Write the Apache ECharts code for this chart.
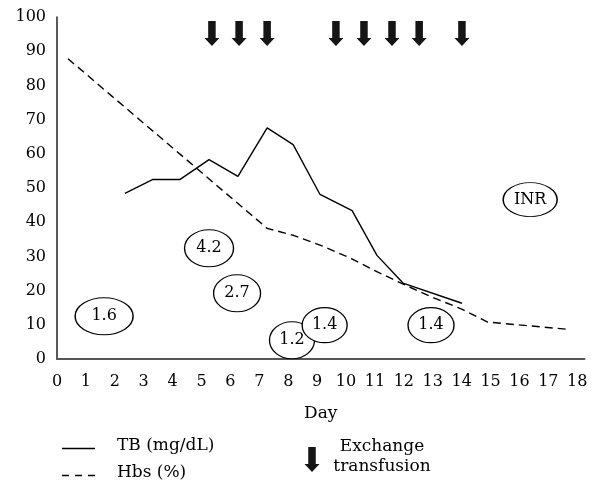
<!DOCTYPE html>
<html><head><meta charset="utf-8">
<script src="https://cdn.jsdelivr.net/npm/echarts@6/dist/echarts.min.js"></script>
<style>html,body{margin:0;padding:0;background:#fff}#c{width:592px;height:481px}</style>
</head><body><div id="c"></div>
<script>
// ---- data ----
const tbDays   = [2.35, 3.32, 4.26, 5.26, 6.26, 7.27, 8.17, 9.10, 10.21, 11.07, 11.97, 14.01];
const tbValues = [48.4, 52.5, 52.5, 58.3, 53.4, 67.6, 62.7, 48.1, 43.4, 30.3, 22.2, 16.3];
const hbsDays   = [0.38, 7.27, 8.2, 9.2, 10.2, 11.1, 12.0, 13.0, 14.0, 14.9, 17.65];
const hbsValues = [87.8, 38.2, 36.1, 33.0, 29.3, 25.4, 21.8, 18.0, 14.6, 10.8, 8.7];
const exchangeDays = [5.36, 6.30, 7.27, 9.65, 10.62, 11.59, 12.53, 14.01];
const exchangeLevel = 95.2;
const inrLabels = ['1.6', '4.2', '2.7', '1.2', '1.4', '1.4', 'INR'];
const inrDays   = [1.63, 5.26, 6.23, 8.13, 9.26, 12.94, 16.37];
const inrLevels = [12.5, 32.4, 19.2, 5.5, 9.9, 9.9, 46.6];
const xTickLabels = ['0','1','2','3','4','5','6','7','8','9','10','11','12','13','14','15','16','17','18'];
const yTickLabels = ['0','10','20','30','40','50','60','70','80','90','100'];
const legendNames = ['TB (mg/dL)', 'Hbs (%)'];
const arrowLegend = ['Exchange', 'transfusion'];

// ---- styles ----
const FONT = 'DejaVu Serif';
const INK = '#000';
const ellipseSizes = [[58,37],[49,37],[47,37],[45,37],[45,35],[46,35],[54,34]];
const arrowPath = 'path://M3.75,0 L11.25,0 L11.25,17 L15,17 L7.5,25 L0,17 L3.75,17 Z';

const chart = echarts.init(document.getElementById('c'), null, {renderer: 'canvas'});
const option = {
  animation: false,
  backgroundColor: '#fff',
  textStyle: {fontFamily: FONT, color: INK},
  grid: {left: 57, right: 7.5, top: 17, bottom: 122, containLabel: false},
  xAxis: {
    type: 'value', min: 0, max: 18.25, interval: 1,
    name: 'Day', nameLocation: 'middle', nameGap: 46,
    nameTextStyle: {fontFamily: FONT, fontSize: 17, color: INK},
    axisLine: {show: true, onZero: false, lineStyle: {color: '#555', width: 2}},
    axisTick: {show: false},
    splitLine: {show: false},
    axisLabel: {
      fontFamily: FONT, fontSize: 16, color: INK, margin: 15,
      showMaxLabel: false,
      formatter: v => { const i = Math.round(v); return (Math.abs(v - i) < 1e-6 && xTickLabels[i] !== undefined) ? xTickLabels[i] : ''; }
    }
  },
  yAxis: {
    type: 'value', min: 0, max: 100, interval: 10,
    axisLine: {show: true, lineStyle: {color: '#222', width: 1.5}},
    axisTick: {show: false},
    splitLine: {show: false},
    axisLabel: {
      fontFamily: FONT, fontSize: 16, color: INK, margin: 11,
      formatter: v => yTickLabels[Math.round(v / 10)] || ''
    }
  },
  series: [
    {
      name: legendNames[0], type: 'line', symbol: 'none',
      data: tbDays.map((d, i) => [d, tbValues[i]]),
      lineStyle: {color: '#000', width: 1.4}, z: 3
    },
    {
      name: legendNames[1], type: 'line', symbol: 'none',
      data: hbsDays.map((d, i) => [d, hbsValues[i]]),
      lineStyle: {color: '#000', width: 1.4, type: [8, 5]}, z: 3
    },
    {
      name: 'Exchange transfusion', type: 'scatter',
      symbol: arrowPath, symbolSize: [15, 25], symbolKeepAspect: false,
      data: exchangeDays.map(d => [d, exchangeLevel]),
      itemStyle: {color: '#151515', opacity: 1}, z: 4
    },
    {
      name: 'INR', type: 'scatter', symbol: 'circle',
      data: inrDays.map((d, i) => ({value: [d, inrLevels[i]], symbolSize: ellipseSizes[i], label: {formatter: inrLabels[i]}})),
      itemStyle: {color: '#fff', borderColor: '#000', borderWidth: 1.2, opacity: 1},
      label: {show: true, position: 'inside', fontFamily: FONT, fontSize: 16, color: INK},
      z: 5
    }
  ],
  graphic: [
    {type: 'line', shape: {x1: 62, y1: 448.5, x2: 95, y2: 448.5}, style: {stroke: '#000', lineWidth: 1.3}},
    {type: 'line', shape: {x1: 62, y1: 475.5, x2: 95, y2: 475.5}, style: {stroke: '#000', lineWidth: 1.3, lineDash: [7, 6]}},
    {type: 'text', left: 117, top: 437, style: {text: legendNames[0], font: '17px "DejaVu Serif"', fill: INK}},
    {type: 'text', left: 117, top: 464, style: {text: legendNames[1], font: '17px "DejaVu Serif"', fill: INK}},
    {type: 'polygon', shape: {points: [[308.25,447],[315.75,447],[315.75,464],[319.5,464],[312,472],[304.5,464],[308.25,464]]}, style: {fill: '#151515'}},
    {type: 'text', x: 382, y: 447, style: {text: arrowLegend[0], font: '17px "DejaVu Serif"', fill: INK, align: 'center', verticalAlign: 'middle'}},
    {type: 'text', x: 382, y: 467, style: {text: arrowLegend[1], font: '17px "DejaVu Serif"', fill: INK, align: 'center', verticalAlign: 'middle'}}
  ]
};
chart.setOption(option);
</script>
</body></html>
